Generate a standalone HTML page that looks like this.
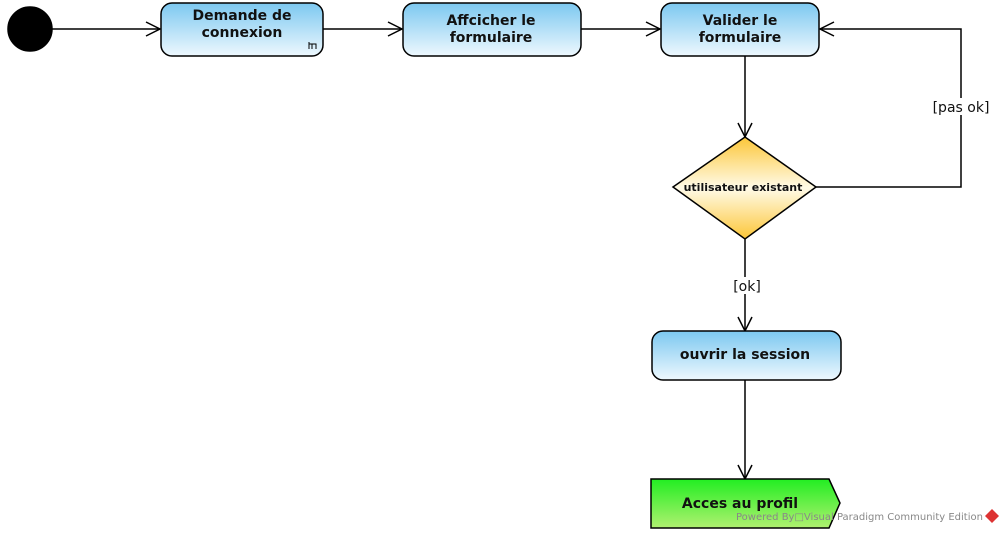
<!DOCTYPE html>
<html><head><meta charset="utf-8"><style>
html,body{margin:0;padding:0;background:#fff;width:1004px;height:533px;overflow:hidden}
text{font-family:"DejaVu Sans","Liberation Sans",sans-serif}
</style></head><body>
<svg width="1004" height="533" viewBox="0 0 1004 533" xmlns="http://www.w3.org/2000/svg">
<defs>
<linearGradient id="b" x1="0" y1="0" x2="0" y2="1"><stop offset="0" stop-color="#7cc8f0"/><stop offset="1" stop-color="#eef8fe"/></linearGradient>
<linearGradient id="y" x1="0" y1="0" x2="0" y2="1"><stop offset="0" stop-color="#fcc638"/><stop offset="0.5" stop-color="#fffbe8"/><stop offset="1" stop-color="#fcc638"/></linearGradient>
<linearGradient id="g" x1="0" y1="0" x2="0" y2="1"><stop offset="0" stop-color="#22ee22"/><stop offset="1" stop-color="#b0f070"/></linearGradient>
</defs>
<g stroke="#000" stroke-width="1.5" fill="none">
<circle cx="30" cy="29" r="22" fill="#000"/>
<line x1="52" y1="29" x2="160" y2="29"/><polyline points="146,22 160,29 146,36"/>
<line x1="323" y1="29" x2="402" y2="29"/><polyline points="388,22 402,29 388,36"/>
<line x1="581" y1="29" x2="660" y2="29"/><polyline points="646,22 660,29 646,36"/>
<line x1="745" y1="56" x2="745" y2="137"/><polyline points="738,123 745,137 752,123"/>
<polyline points="816,187 961,187 961,29 820,29"/><polyline points="834,22 820,29 834,36"/>
<line x1="745" y1="239" x2="745" y2="331"/><polyline points="738,317 745,331 752,317"/>
<line x1="745" y1="380" x2="745" y2="479"/><polyline points="738,465 745,479 752,465"/>
<rect x="161" y="3" width="162" height="53" rx="11" fill="url(#b)"/>
<rect x="403" y="3" width="178" height="53" rx="11" fill="url(#b)"/>
<rect x="661" y="3" width="158" height="53" rx="11" fill="url(#b)"/>
<rect x="652" y="331" width="189" height="49" rx="11" fill="url(#b)"/>
<polygon points="673,187 745,137 816,187 745,239" fill="url(#y)"/>
<polygon points="651,479 829,479 840,503 829,528 651,528" fill="url(#g)"/>
<path d="M309 49 V42 M312 49 V44 H316 V49 M309 44 H312" stroke-width="1"/>
</g>
<g font-weight="bold" font-size="14" text-anchor="middle" fill="#111">
<text x="242" y="20">Demande de</text><text x="242" y="37">connexion</text>
<text x="491" y="25">Affcicher le</text><text x="491" y="42">formulaire</text>
<text x="740" y="25">Valider le</text><text x="740" y="42">formulaire</text>
<text x="745" y="359">ouvrir la session</text>
<text x="740" y="508">Acces au profil</text>
<text x="743" y="191" font-size="11">utilisateur existant</text>
</g>
<rect x="931" y="98" width="60" height="17" fill="#fff"/>
<text x="961" y="112" font-size="14" text-anchor="middle" fill="#111">[pas ok]</text>
<rect x="732" y="277" width="30" height="17" fill="#fff"/>
<text x="747" y="291" font-size="14" text-anchor="middle" fill="#111">[ok]</text>
<text x="736" y="520" font-size="10" fill="#888">Powered By□Visual Paradigm Community Edition</text>
<path d="M992 509 L999 516 L992 523 L985 516 Z" fill="#d33"/>
</svg>
</body></html>
